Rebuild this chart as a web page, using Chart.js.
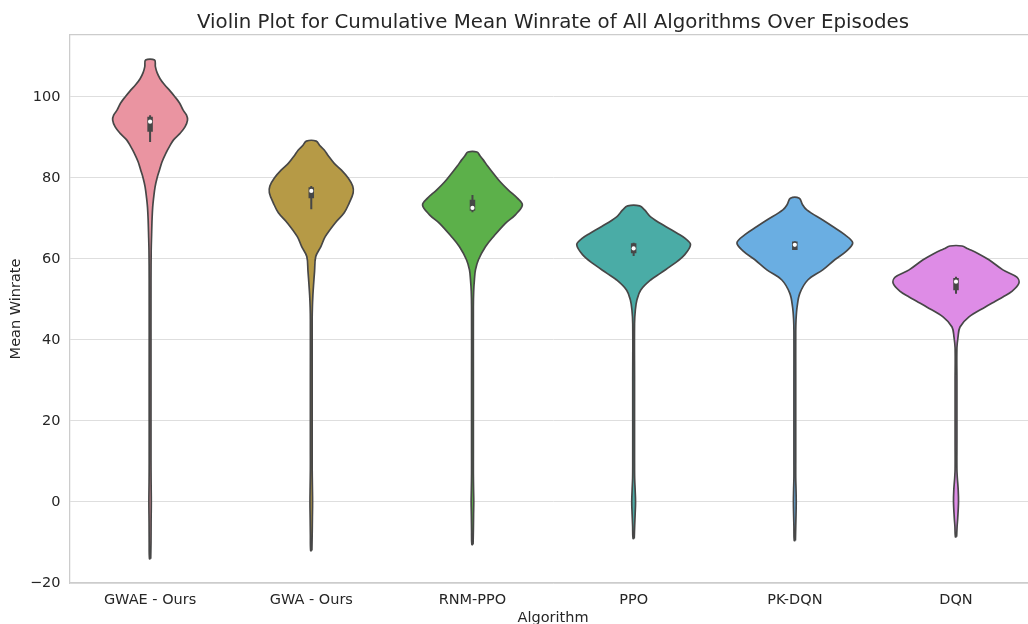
<!DOCTYPE html>
<html>
<head>
<meta charset="utf-8">
<title>Violin plot</title>
<script src="https://cdn.jsdelivr.net/npm/chart.js@4.4.1/dist/chart.umd.min.js"></script>
<style>
    html, body { margin: 0; padding: 0; background: #fff; overflow: hidden; }
    #wrap { width: 1028px; height: 624px; overflow: hidden; }
</style>
</head>
<body>
<div id="wrap"><canvas id="violin-chart" width="1106" height="640"></canvas></div>
<script>
// Categories / colours
var algorithms = ['GWAE - Ours', 'GWA - Ours', 'RNM-PPO', 'PPO', 'PK-DQN', 'DQN'];
var violinColors = ['#ea94a1', '#b69a46', '#5cb04a', '#4aaca6', '#6aaee2', '#de8ce6'];
var yTicks = [-20, 0, 20, 40, 60, 80, 100];

// Density profiles: [winrate, density]
var gwaeProfile = [[-14, 0.6], [-10, 0.9], [-5, 1.0], [0, 1.2], [5, 1.0], [10, 0.9], [30, 0.9], [55, 0.9], [62, 1.1],
    [66, 1.5], [70, 2], [72.8, 2.6], [75, 3.5], [77.8, 5], [80, 7], [82, 9.5], [84, 12], [86.2, 16], [87.8, 19.5],
    [89.4, 23.5], [91, 30], [92.6, 35], [94.3, 37.5], [95.5, 36.5], [96.8, 33], [98.5, 29.5], [100, 25],
    [101.5, 20], [103, 14.5], [104.5, 10], [106, 7], [107.5, 5.3], [109.1, 4.5]];
var gwaProfile = [[-12, 0.6], [-8, 0.9], [-4, 1.1], [0, 1.3], [4, 1.1], [8, 0.9], [12, 0.9], [30, 0.9], [45, 0.9],
    [48, 1.1], [51, 1.6], [54, 2.4], [57, 3.3], [60.6, 4.5], [63, 9.5], [65.5, 14], [68.9, 24], [71.4, 33],
    [73.8, 38], [76.3, 42], [78, 41.5], [80, 37], [82, 30], [83.6, 23], [85.5, 17], [86.9, 13], [88, 8.5], [89.1, 5]];
var rnmProfile = [[-10.5, 0.6], [-7, 0.9], [-3, 1.1], [0, 1.3], [3, 1.1], [7, 0.9], [12, 0.9], [30, 0.9], [48, 0.9],
    [52, 1.2], [55, 2], [57.3, 3], [59.8, 6], [63, 13], [65.5, 21], [68.8, 33], [70.9, 43], [73.3, 50], [75, 45],
    [77, 36], [79, 28], [81.1, 21], [83, 15], [84.4, 11], [85.5, 7.5], [86.4, 4.5]];
var ppoProfile = [[-9, 0.6], [-6, 1], [-3, 1.5], [0, 1.9], [3, 1.5], [6, 1], [10, 0.9], [30, 0.9], [44, 0.9],
    [47.4, 1.7], [49.9, 3.3], [52.3, 7], [54.8, 17], [56.5, 27], [58.9, 41], [61, 51], [63.5, 57], [65, 52],
    [66.3, 44], [68, 32], [70.4, 17], [72.1, 11], [73.1, 6]];
var pkdqnProfile = [[-9.5, 0.6], [-6, 0.9], [-3, 1.2], [0, 1.4], [3, 1.2], [6, 0.9], [10, 0.9], [30, 0.9], [42, 0.9],
    [45, 1.2], [48.2, 2.3], [51.5, 5], [54.8, 13], [57.3, 28], [59.8, 40], [62, 52], [64, 58], [66, 50], [68, 38],
    [69.6, 28], [72.1, 12], [73.5, 7.5], [75, 4.5]];
var dqnProfile = [[-8.6, 0.6], [-6, 1.1], [-4, 1.7], [0, 2.5], [3, 2.2], [6, 1.3], [8, 0.9], [15, 0.9], [30, 0.9],
    [38, 0.9], [40.7, 2], [43.2, 4], [45.7, 13], [48.1, 29], [49.5, 39], [50.6, 47], [52, 56], [54, 63],
    [55.5, 61], [57.3, 47], [59.8, 33], [61.5, 21], [62.5, 12], [63.2, 6]];
var profiles = [gwaeProfile, gwaProfile, rnmProfile, ppoProfile, pkdqnProfile, dqnProfile];

// Inner box stats
var whiskerLow = [88.9, 72.3, 71.5, 60.7, 62.2, 51.4];
var quartile1 = [91.4, 75.0, 71.9, 61.4, 62.2, 52.3];
var medians = [93.9, 76.8, 72.6, 62.6, 63.5, 54.4];
var quartile3 = [95.1, 77.7, 74.6, 63.9, 64.3, 55.3];
var whiskerHigh = [95.5, 78.0, 75.8, 64.0, 64.4, 55.6];

var edgeGray = '#474747';
var textColor = '#262626';
var fontFamily = "'DejaVu Sans', sans-serif";
var maxHalfWidth = 0.39;

var maxDensity = 0;
profiles.forEach(function (p) {
    p.forEach(function (row) { if (row[1] > maxDensity) maxDensity = row[1]; });
});
var widthScale = maxHalfWidth / maxDensity;

var datasets = [];

// median dots (top)
datasets.push({
    data: medians.map(function (m, i) { return {x: i, y: m}; }),
    pointRadius: 2.1,
    pointBackgroundColor: '#ffffff',
    pointBorderWidth: 0,
    showLine: false,
    order: 0
});

for (var i = 0; i < algorithms.length; i++) {
    // box
    datasets.push({
        data: [{x: i, y: quartile1[i]}, {x: i, y: quartile3[i]}],
        showLine: true, borderColor: edgeGray, borderWidth: 5.5, borderCapStyle: 'butt',
        pointRadius: 0, fill: false, order: 1
    });
    // whisker
    datasets.push({
        data: [{x: i, y: whiskerLow[i]}, {x: i, y: whiskerHigh[i]}],
        showLine: true, borderColor: edgeGray, borderWidth: 2,
        pointRadius: 0, fill: false, order: 2
    });
    // violin outline: right side up, left side down
    var p = profiles[i];
    var outline = [];
    for (var k = 0; k < p.length; k++) {
        outline.push({x: i + p[k][1] * widthScale, y: p[k][0]});
    }
    for (var k2 = p.length - 1; k2 >= 0; k2--) {
        outline.push({x: i - p[k2][1] * widthScale, y: p[k2][0]});
    }
    outline.push(outline[0]);
    datasets.push({
        data: outline,
        showLine: true, fill: 'shape',
        backgroundColor: violinColors[i],
        borderColor: edgeGray, borderWidth: 1.7, borderJoinStyle: 'round',
        pointRadius: 0, tension: 0.35, order: 3
    });
}

var tickFont = {family: fontFamily, size: 14.5};

var ctx = document.getElementById('violin-chart');
var violinChart = new Chart(ctx, {
    type: 'scatter',
    data: {datasets: datasets},
    options: {
        responsive: false,
        animation: false,
        devicePixelRatio: 1,
        layout: {padding: 0},
        plugins: {
            legend: {display: false},
            tooltip: {enabled: false},
            title: {
                display: true,
                text: 'Violin Plot for Cumulative Mean Winrate of All Algorithms Over Episodes',
                color: textColor,
                font: {family: fontFamily, size: 19.8, weight: 'normal'},
                padding: {top: 11, bottom: 0.2}
            }
        },
        scales: {
            x: {
                type: 'linear', position: 'bottom', min: -0.5, max: 5.5,
                afterBuildTicks: function (s) { s.ticks = algorithms.map(function (a, j) { return {value: j}; }); },
                afterFit: function (s) { s.height = 57; },
                ticks: {
                    callback: function (v) { return algorithms[v]; },
                    color: textColor, font: tickFont, padding: 8.6, autoSkip: false, maxRotation: 0
                },
                grid: {display: false, drawTicks: false},
                border: {display: true, color: '#cccccc', width: 1.25},
                title: {display: true, text: 'Algorithm', color: textColor, font: tickFont, padding: {top: 0, bottom: 13}}
            },
            xTop: {
                type: 'linear', position: 'top', min: -0.5, max: 5.5,
                afterFit: function (s) { s.height = 0; },
                ticks: {display: false},
                grid: {display: false, drawTicks: false},
                border: {display: true, color: '#cccccc', width: 1.25}
            },
            y: {
                min: -20, max: 115.3,
                afterBuildTicks: function (s) { s.ticks = yTicks.map(function (v) { return {value: v}; }); },
                afterFit: function (s) { s.width = 69.5; },
                ticks: {
                    callback: function (v) { return String(v).replace('-', '\u2212'); },
                    color: textColor, font: tickFont, padding: 9
                },
                grid: {color: '#dedede', lineWidth: 1, drawTicks: false},
                border: {display: true, color: '#cccccc', width: 1.25},
                title: {display: true, text: 'Mean Winrate', color: textColor, font: tickFont, padding: {top: 8, bottom: 0}}
            },
            yRight: {
                position: 'right', min: -20, max: 115.3,
                afterFit: function (s) { s.width = 69.4; },
                ticks: {display: false},
                grid: {display: false, drawTicks: false},
                border: {display: false}
            }
        }
    }
});
</script>
</body>
</html>
